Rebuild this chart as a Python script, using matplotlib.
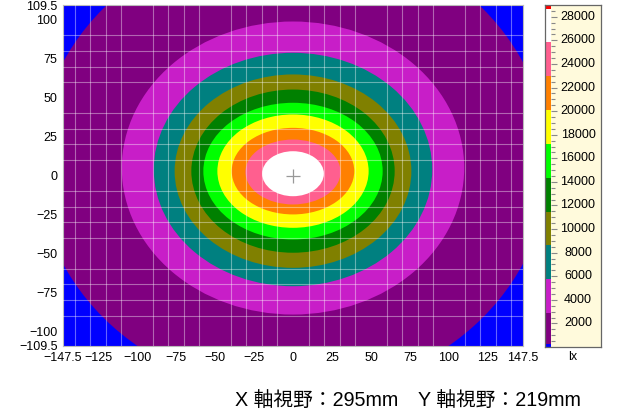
import matplotlib
matplotlib.use("Agg")
import matplotlib.pyplot as plt
from matplotlib.patches import Ellipse
from matplotlib.ticker import MultipleLocator
import numpy as np

plt.rcParams['font.family'] = ['Liberation Sans', 'Noto Sans CJK JP', 'DejaVu Sans']

# ---- data ----
# illuminance bands (lx): lower bound, upper bound, colour
band_low = [0, 287, 2870, 5740, 8610, 11480, 14350, 17220, 20090, 22960, 25830, 28700]
band_high = [287, 2870, 5740, 8610, 11480, 14350, 17220, 20090, 22960, 25830, 28700, 29000]
band_colors = ['#0000FF', '#800080', '#C81EC8', '#008080', '#808000', '#008000',
               '#00FF00', '#FFFF00', '#FF8000', '#FF5F8F', '#FFFFFF', '#FF0000']

# iso-illuminance contours (outer -> inner) (mm)
contour_x_half = [164.0, 109.8, 89.3, 75.9, 65.2, 57.5, 48.5, 39.3, 30.5, 19.8]
contour_y_top = [156.0, 98.9, 78.8, 64.9, 55.2, 46.7, 39.2, 30.6, 23.1, 15.6]
contour_y_bottom = [-140.0, -89.3, -71.1, -59.3, -49.6, -41.1, -33.6, -25.0, -18.6, -13.3]

x_ticks = [-147.5, -125, -100, -75, -50, -25, 0, 25, 50, 75, 100, 125, 147.5]
y_ticks = [-109.5, -100, -75, -50, -25, 0, 25, 50, 75, 100, 109.5]
cbar_ticks = [2000, 4000, 6000, 8000, 10000, 12000, 14000, 16000, 18000,
              20000, 22000, 24000, 26000, 28000]
caption = "X 軸視野：295mm\u3000Y 軸視野：219mm"

W, H = 620, 409
fig = plt.figure(figsize=(W / 100, H / 100), dpi=100)

ax = fig.add_axes([63 / W, 1 - 346 / H, 460 / W, 341 / H])
ax.set_xlim(-147.5, 147.5)
ax.set_ylim(-109.5, 109.5)
ax.set_facecolor(band_colors[0])

for i in range(len(contour_x_half)):
    yc = (contour_y_top[i] + contour_y_bottom[i]) / 2
    h = contour_y_top[i] - contour_y_bottom[i]
    e = Ellipse((0, yc), 2 * contour_x_half[i], h,
                facecolor=band_colors[i + 1], edgecolor='none', zorder=1)
    ax.add_patch(e)

ax.plot([0], [0], marker='+', color='#999999', ms=10, mew=0.9, zorder=3)

ax.xaxis.set_minor_locator(MultipleLocator(10))
ax.yaxis.set_minor_locator(MultipleLocator(10))
ax.grid(False, which='major')
ax.grid(True, which='minor', color='white', alpha=0.4, lw=0.8)
ax.set_axisbelow(False)
ax.set_xticks(x_ticks)
ax.set_yticks(y_ticks)
fmt = lambda v: ("%g" % v).replace('-', '\u2212')
ax.set_xticklabels([fmt(v) for v in x_ticks])
ax.set_yticklabels([fmt(v) for v in y_ticks])
ax.tick_params(which='both', length=0, labelsize=9, colors='black')
ax.tick_params(axis='x', pad=4)
ax.tick_params(axis='y', pad=4)
for s in ax.spines.values():
    s.set_color('#bbbbbb')
    s.set_linewidth(0.8)

# ---- colour bar ----
cax = fig.add_axes([545 / W, 1 - 347 / H, 56 / W, 342 / H])
cax.set_facecolor('#FFFADC')
cax.set_xlim(0, 1)
cax.set_ylim(0, 29000)
strip = 6 / 56
cax.bar([0] * len(band_low), [hi - lo for lo, hi in zip(band_low, band_high)],
        bottom=band_low, width=strip, align='edge', color=band_colors,
        edgecolor='none', zorder=1)
minor_vals = np.arange(500, 29000, 500)
cax.hlines([v for v in minor_vals if v % 2000], strip, strip + 4 / 56,
           color='#888888', lw=0.8)
cax.hlines(cbar_ticks, strip, strip + 6 / 56, color='#888888', lw=0.8)
for v in cbar_ticks:
    cax.text(0.59, v, str(v), ha='center', va='center', fontsize=9)
cax.set_xticks([])
cax.set_yticks([])
for s in cax.spines.values():
    s.set_color('#666666')
    s.set_linewidth(0.9)
fig.text(573 / W, 1 - 357 / H, 'lx', ha='center', va='center', fontsize=9)

fig.text(408 / W, 1 - 400 / H, caption, ha='center', va='center', fontsize=14.2)

fig.savefig('out.png', dpi=100)
